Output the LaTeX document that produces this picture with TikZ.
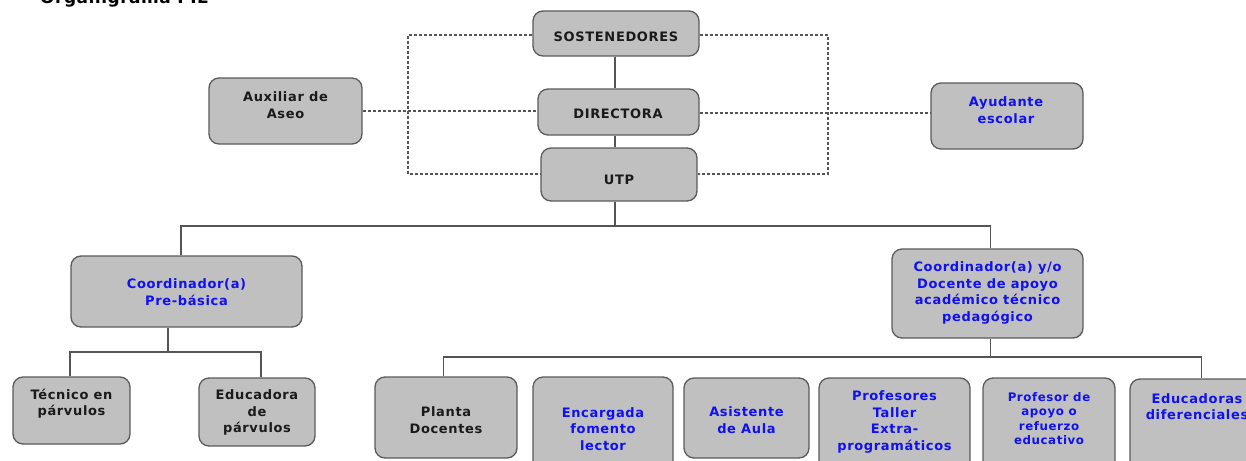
\documentclass[tikz,border=0pt]{standalone}
\usepackage{fontspec}
\setmainfont{DejaVu Sans}[LetterSpace=5]
\newfontfamily\titlefont{DejaVu Sans}[LetterSpace=3]
\definecolor{boxfill}{HTML}{C0C0C0}
\definecolor{boxline}{HTML}{5A5A5A}
\definecolor{conn}{HTML}{555555}
\definecolor{txtblue}{HTML}{1010F0}
\definecolor{txtblack}{HTML}{1A1A1A}
\tikzset{
  orgbox/.style={draw=boxline, fill=boxfill, line width=1.3pt, rounded corners=10pt, inner sep=0pt},
  lbl/.style={font=\bfseries\fontsize{13}{16.7}\selectfont, align=center, inner sep=0pt, text=txtblack},
  lblblue/.style={lbl, text=txtblue},
  lblsmall/.style={font=\bfseries\fontsize{11.8}{14.6}\selectfont, align=center, inner sep=0pt, text=txtblue},
  solidlink/.style={draw=conn, line width=1.1pt},
  dashlink/.style={draw=conn, line width=1.1pt, dashed, dash pattern=on 3pt off 2pt},
}
% \orgnode{name}{x1}{y1}{x2}{y2}
\newcommand{\orgnode}[5]{%
  \node[orgbox, minimum width={(#4)-(#2)}, minimum height={(#5)-(#3)}] (#1) at ({((#2)+(#4))/2},{((#3)+(#5))/2}) {};}
\begin{document}
\begin{tikzpicture}[x=1pt,y=-1pt]
\useasboundingbox (0,0) rectangle (1246,460);
\node[font=\titlefont\bfseries\fontsize{17}{20}\selectfont, anchor=base west, inner sep=0pt] (title) at (40,4) {Organigrama PIE};

% boxes
\orgnode{sost}{533}{11}{699}{56}
\orgnode{dir}{538}{89}{699}{135}
\orgnode{utp}{541}{148}{697}{201}
\orgnode{aux}{209}{78}{362}{144}
\orgnode{ayu}{931}{83}{1083}{149}
\orgnode{cpb}{71}{256}{302}{327}
\orgnode{tec}{13}{377}{130}{444}
\orgnode{edu}{199}{378}{315}{446}
\orgnode{cda}{892}{249}{1083}{338}
\orgnode{pla}{375}{377}{517}{458}
\orgnode{enc}{533}{377}{673}{472}
\orgnode{asi}{684}{378}{809}{458}
\orgnode{pro}{819}{378}{970}{472}
\orgnode{pap}{983}{378}{1115}{472}
\orgnode{edd}{1130}{379}{1264}{472}

% labels
\node[lbl] (sost-t) at (616,36.5) {SOSTENEDORES};
\node[lbl] (dir-t) at (618,113.5) {DIRECTORA};
\node[lbl] (utp-t) at (619,179.5) {UTP};
\node[lbl] (aux-t) at (285.5,105) {Auxiliar de\\Aseo};
\node[lblblue] (ayu-t) at (1006,110) {Ayudante\\escolar};
\node[lblblue] (cpb-t) at (186.5,292.5) {Coordinador(a)\\Pre-básica};
\node[lbl] (tec-t) at (71.5,403.5) {Técnico en\\párvulos};
\node[lbl] (edu-t) at (257,412.5) {Educadora\\de\\párvulos};
\node[lblblue] (cda-t) at (987.5,293) {Coordinador(a) y/o\\Docente de apoyo\\académico técnico\\pedagógico};
\node[lbl] (pla-t) at (446,420) {Planta\\Docentes};
\node[lblblue] (enc-t) at (603,429) {Encargada\\fomento\\lector};
\node[lblblue] (asi-t) at (746.5,420) {Asistente\\de Aula};
\node[lblblue] (pro-t) at (894.5,422) {Profesores\\Taller\\Extra-\\programáticos};
\node[lblsmall] (pap-t) at (1049,418.5) {Profesor de\\apoyo o\\refuerzo\\educativo};
\node[lblblue] (edd-t) at (1197,406.5) {Educadoras\\diferenciales};

% solid hierarchy
\draw[solidlink] (sost.south -| 615,0) -- (dir.north -| 615,0);
\draw[solidlink] (dir.south -| 615,0) -- (utp.north -| 615,0);
\coordinate (hub) at (615,226);
\draw[solidlink] (utp.south -| hub) -- (hub);
\draw[solidlink] (cpb.north -| 181,0) |- (hub) -| (cda.north -| 990.5,0);

\coordinate (lhub) at (168,352);
\draw[solidlink] (cpb.south -| lhub) -- (lhub);
\draw[solidlink] (tec.north -| 70,0) |- (lhub) -| (edu.north -| 261,0);

\coordinate (rhub) at (990.5,357);
\draw[solidlink] (cda.south -| rhub) -- (rhub);
\draw[solidlink] (pla.north -| 443.5,0) |- (rhub) -| (edd.north -| 1201.5,0);
\draw[solidlink] (enc.north -| 606.5,0) -- (enc.north -| 606.5,357);
\draw[solidlink] (asi.north -| 752.5,0) -- (asi.north -| 752.5,357);
\draw[solidlink] (pro.north -| 899.5,0) -- (pro.north -| 899.5,357);
\draw[solidlink] (pap.north -| 1051.5,0) -- (pap.north -| 1051.5,357);

% dashed links
\coordinate (dl) at (408,35);
\coordinate (dr) at (828,35);
\draw[dashlink] (sost.west |- 0,35) -- (dl) -- (408,174) -- (utp.west |- 0,174);
\draw[dashlink] (sost.east |- 0,35) -- (dr) -- (828,174) -- (utp.east |- 0,174);
\draw[dashlink] (aux.east |- 0,111) -- (dir.west |- 0,111);
\draw[dashlink] (dir.east |- 0,113) -- (ayu.west |- 0,113);
\end{tikzpicture}
\end{document}
